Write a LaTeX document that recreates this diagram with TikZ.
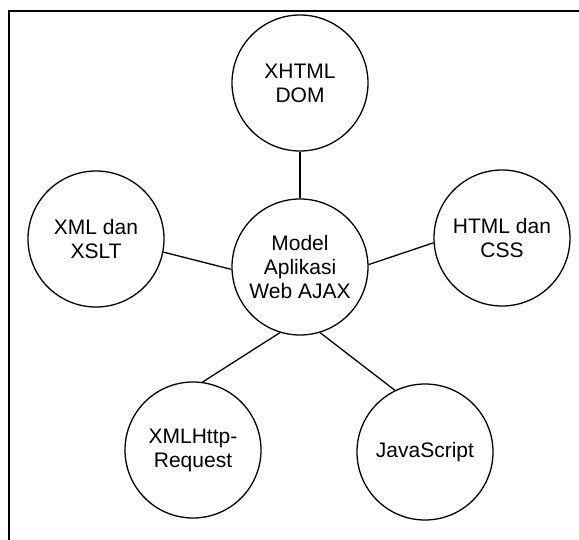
\documentclass[tikz,border=0pt]{standalone}
\usepackage{fontspec}
\setmainfont{Liberation Sans}
\begin{document}
\begin{tikzpicture}[
				x=1pt, y=-1pt,
				topic/.style={circle, draw, line width=1.3pt, minimum size=136pt, inner sep=0pt, align=center, font=\fontsize{21}{24}\selectfont},
				link/.style={line width=1.3pt}
			]
			\useasboundingbox (0,0) rectangle (579,539);
			\clip (0,0) rectangle (579,539);
			% frame
			\draw[line width=2.4pt] (9,560) |- (600,11);
			% circles
			\node[topic] (model) at (300,267) {Model\\Aplikasi\\Web AJAX};
			\node[topic] (xhtml) at (300,83) {XHTML\\DOM};
			\node[topic] (xml) at (96,239) {XML dan\\XSLT};
			\node[topic] (html) at (502,238) {HTML dan\\CSS};
			\node[topic] (xhr) at (193,450) {XMLHttp-\\Request};
			\node[topic] (js) at (425,452) {JavaScript};
			% links
			\draw[link] (model.north) -- (xhtml.south);
			\draw[link] (model.182) -- (xml.-11);
			\draw[link] (model.2) -- (html.184);
			\draw[link] (model.-107) -- (xhr.82);
			\draw[link] (model.-73) -- (js.116);
		\end{tikzpicture}
\end{document}
